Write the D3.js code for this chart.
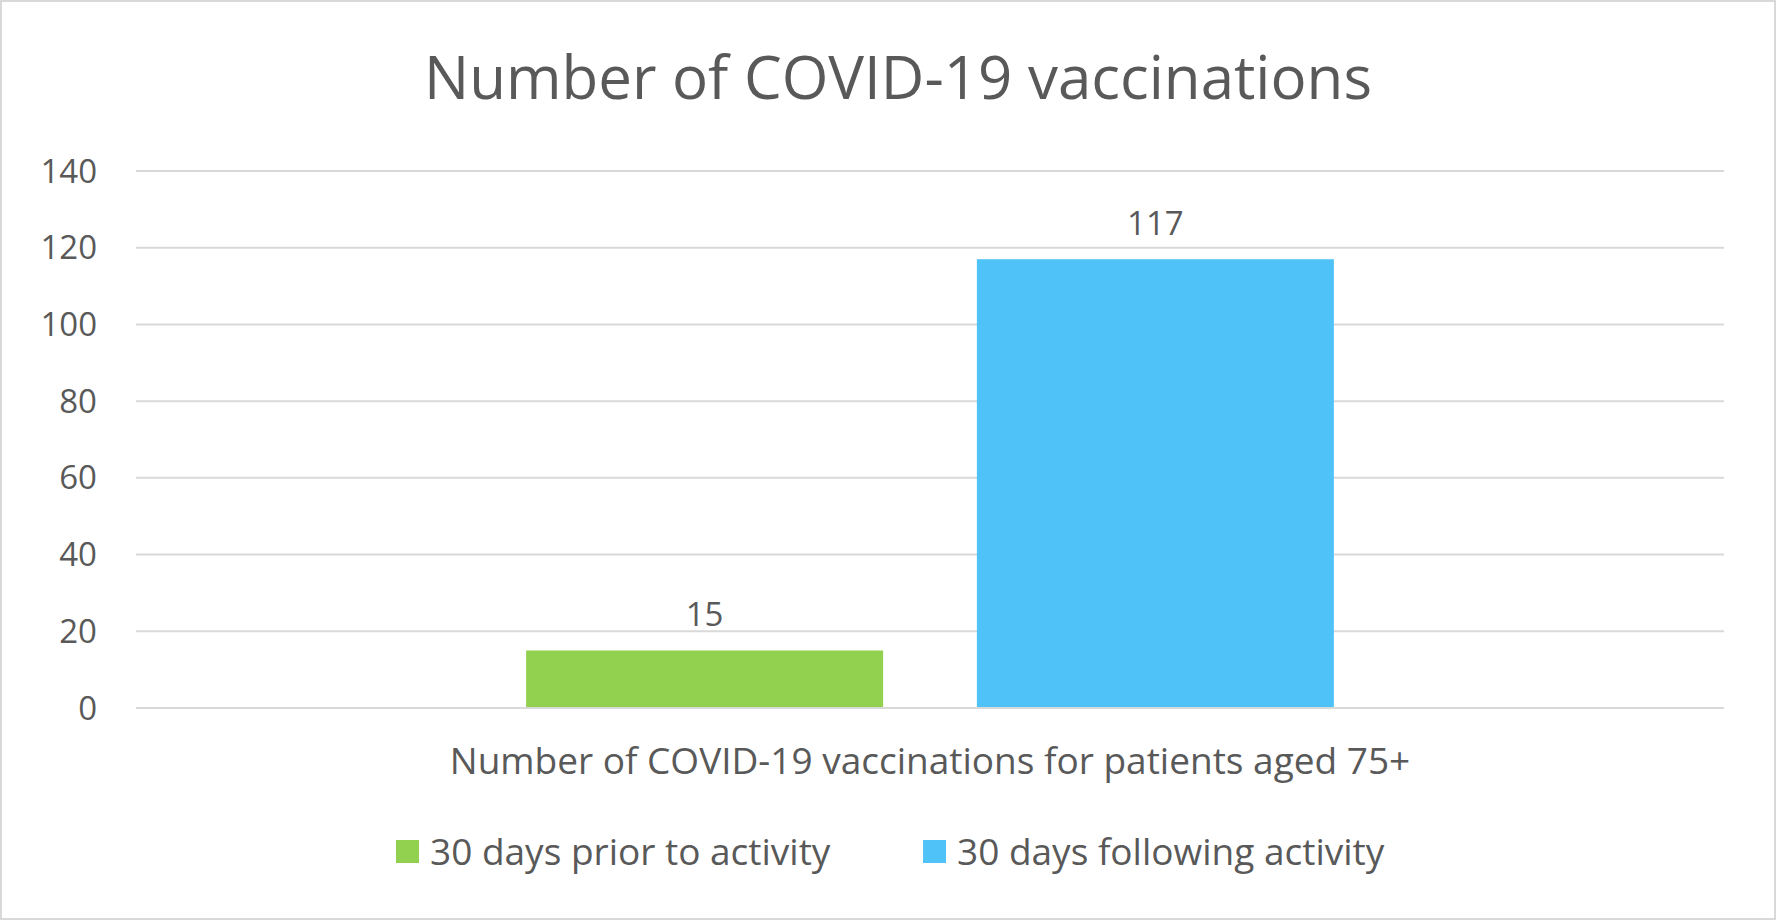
<!DOCTYPE html>
<html>
<head>
<meta charset="utf-8">
<script src="https://cdn.jsdelivr.net/npm/d3@7"></script>
<style>
  body { margin: 0; background: #fff; }
  text { font-family: Aptos, "Open Sans", "Noto Sans", sans-serif; fill: #595959; }
</style>
</head>
<body>
<svg id="chart" width="1776" height="920"></svg>
<script>
var category = 'Number of COVID-19 vaccinations for patients aged 75+';
var seriesNames = ['30 days prior to activity', '30 days following activity'];
var seriesValues = [15, 117];
var seriesColors = ['#92d050', '#4fc3f7'];
var yTicks = [0, 20, 40, 60, 80, 100, 120, 140];

var svg = d3.select('#chart');
var W = 1776, H = 920;
var m = { left: 136, right: 52, top: 171, bottom: 212 };

svg.append('rect').attr('x', 1).attr('y', 1).attr('width', W - 2).attr('height', H - 2)
  .attr('fill', '#fff').attr('stroke', '#d9d9d9').attr('stroke-width', 2);

var y = d3.scaleLinear().domain([0, 140]).range([H - m.bottom, m.top]);
var x0 = d3.scaleBand().domain([category]).range([m.left, W - m.right]).paddingInner(0).paddingOuter(0.483);
var x1 = d3.scaleBand().domain(seriesNames).range([0, x0.bandwidth()]).paddingInner(0.208).paddingOuter(0);

svg.append('g').selectAll('line').data(yTicks).enter().append('line')
  .attr('x1', m.left).attr('x2', W - m.right)
  .attr('y1', function(d) { return y(d); }).attr('y2', function(d) { return y(d); })
  .attr('stroke', '#d9d9d9').attr('stroke-width', 2);

svg.append('g').selectAll('text').data(yTicks).enter().append('text')
  .attr('x', 97).attr('y', function(d) { return y(d); }).attr('dy', '0.35em')
  .attr('text-anchor', 'end').attr('font-size', 33).text(function(d) { return d; });

var g = svg.append('g').attr('transform', 'translate(' + x0(category) + ',0)');
g.selectAll('rect').data(seriesValues).enter().append('rect')
  .attr('x', function(d, i) { return x1(seriesNames[i]); })
  .attr('width', x1.bandwidth())
  .attr('y', function(d) { return y(d); })
  .attr('height', function(d) { return y(0) - y(d); })
  .attr('fill', function(d, i) { return seriesColors[i]; });
g.selectAll('text').data(seriesValues).enter().append('text')
  .attr('x', function(d, i) { return x1(seriesNames[i]) + x1.bandwidth() / 2; })
  .attr('y', function(d) { return y(d) - 24; })
  .attr('text-anchor', 'middle').attr('font-size', 33).text(function(d) { return d; });

svg.append('line').attr('x1', m.left).attr('x2', W - m.right)
  .attr('y1', y(0)).attr('y2', y(0)).attr('stroke', '#d9d9d9').attr('stroke-width', 2);

svg.append('text').attr('x', x0(category) + x0.bandwidth() / 2).attr('y', 774)
  .attr('text-anchor', 'middle').attr('font-size', 37).text(category);

svg.append('text').attr('x', W / 2 + 10).attr('y', 99)
  .attr('text-anchor', 'middle').attr('font-size', 60).text('Number of COVID-19 vaccinations');

var legX = [396, 923];
var leg = svg.append('g').selectAll('g').data(seriesNames).enter().append('g')
  .attr('transform', function(d, i) { return 'translate(' + legX[i] + ',840)'; });
leg.append('rect').attr('width', 23).attr('height', 23)
  .attr('fill', function(d, i) { return seriesColors[i]; });
leg.append('text').attr('x', 34).attr('y', 12).attr('dy', '0.35em')
  .attr('font-size', 37).text(function(d) { return d; });
</script>
</body>
</html>
